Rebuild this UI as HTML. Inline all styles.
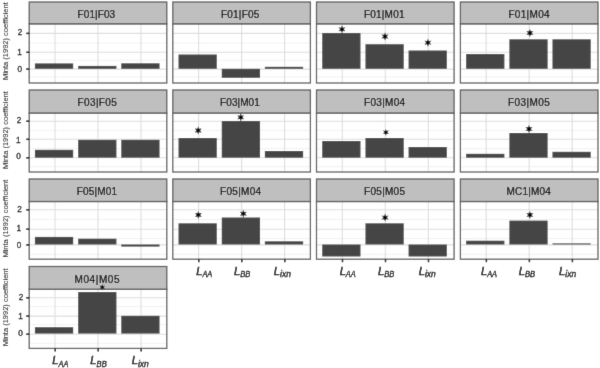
<!DOCTYPE html>
<html><head><meta charset="utf-8"><style>
html,body{margin:0;padding:0;background:#fff;}
svg{display:block;will-change:transform;}
text{font-family:"Liberation Sans", sans-serif;}
</style></head><body>
<svg width="600" height="368" viewBox="0 0 600 368">
<defs><filter id="b" x="0" y="0" width="1" height="1"><feConvolveMatrix order="3" kernelMatrix="0.0081 0.0738 0.0081 0.0738 0.6724 0.0738 0.0081 0.0738 0.0081" edgeMode="duplicate" preserveAlpha="true"/></filter></defs>
<rect width="600" height="368" fill="#fff"/>
<g filter="url(#b)">
<rect width="600" height="368" fill="#fff"/>
<rect x="29.2" y="23.8" width="137.6" height="59.2" fill="#fff"/>
<line x1="29.2" x2="166.8" y1="43.1" y2="43.1" stroke="#f0f0f0" stroke-width="0.9"/>
<line x1="29.2" x2="166.8" y1="60.2" y2="60.2" stroke="#f0f0f0" stroke-width="0.9"/>
<line x1="29.2" x2="166.8" y1="76.9" y2="76.9" stroke="#f0f0f0" stroke-width="0.9"/>
<line x1="29.2" x2="166.8" y1="33.4" y2="33.4" stroke="#dedede" stroke-width="1.1"/>
<line x1="29.2" x2="166.8" y1="52.3" y2="52.3" stroke="#dedede" stroke-width="1.1"/>
<line x1="29.2" x2="166.8" y1="69.1" y2="69.1" stroke="#dedede" stroke-width="1.1"/>
<line x1="55" x2="55" y1="23.8" y2="83" stroke="#dedede" stroke-width="1.1"/>
<line x1="98" x2="98" y1="23.8" y2="83" stroke="#dedede" stroke-width="1.1"/>
<line x1="141" x2="141" y1="23.8" y2="83" stroke="#dedede" stroke-width="1.1"/>
<rect x="34.9" y="63.4" width="38.3" height="5.4" fill="#454545"/>
<rect x="78.15" y="65.9" width="38.3" height="2.9" fill="#454545"/>
<rect x="121.25" y="63.3" width="38.3" height="5.5" fill="#454545"/>
<rect x="29.2" y="23.8" width="137.6" height="59.2" fill="none" stroke="#5c5c5c" stroke-width="1.3"/>
<rect x="29.2" y="2" width="137.6" height="21.8" fill="#bfbfbf" stroke="#5c5c5c" stroke-width="1.3"/>
<text x="77.58" y="18" font-size="10" fill="#000" textLength="37.56" lengthAdjust="spacing" stroke="#000" stroke-width="0.2">F01|F03</text>
<rect x="172.8" y="23.8" width="137.6" height="59.2" fill="#fff"/>
<line x1="172.8" x2="310.4" y1="43.1" y2="43.1" stroke="#f0f0f0" stroke-width="0.9"/>
<line x1="172.8" x2="310.4" y1="60.2" y2="60.2" stroke="#f0f0f0" stroke-width="0.9"/>
<line x1="172.8" x2="310.4" y1="76.9" y2="76.9" stroke="#f0f0f0" stroke-width="0.9"/>
<line x1="172.8" x2="310.4" y1="33.4" y2="33.4" stroke="#dedede" stroke-width="1.1"/>
<line x1="172.8" x2="310.4" y1="52.3" y2="52.3" stroke="#dedede" stroke-width="1.1"/>
<line x1="172.8" x2="310.4" y1="69.1" y2="69.1" stroke="#dedede" stroke-width="1.1"/>
<line x1="198.6" x2="198.6" y1="23.8" y2="83" stroke="#dedede" stroke-width="1.1"/>
<line x1="241.6" x2="241.6" y1="23.8" y2="83" stroke="#dedede" stroke-width="1.1"/>
<line x1="284.6" x2="284.6" y1="23.8" y2="83" stroke="#dedede" stroke-width="1.1"/>
<rect x="178.5" y="54.5" width="38.3" height="14.3" fill="#454545"/>
<rect x="221.75" y="68.8" width="38.3" height="9" fill="#454545"/>
<rect x="264.85" y="66.8" width="38.3" height="2" fill="#454545"/>
<rect x="172.8" y="23.8" width="137.6" height="59.2" fill="none" stroke="#5c5c5c" stroke-width="1.3"/>
<rect x="172.8" y="2" width="137.6" height="21.8" fill="#bfbfbf" stroke="#5c5c5c" stroke-width="1.3"/>
<text x="220.88" y="18" font-size="10" fill="#000" textLength="38.44" lengthAdjust="spacing" stroke="#000" stroke-width="0.2">F01|F05</text>
<rect x="316.5" y="23.8" width="137.6" height="59.2" fill="#fff"/>
<line x1="316.5" x2="454.1" y1="43.1" y2="43.1" stroke="#f0f0f0" stroke-width="0.9"/>
<line x1="316.5" x2="454.1" y1="60.2" y2="60.2" stroke="#f0f0f0" stroke-width="0.9"/>
<line x1="316.5" x2="454.1" y1="76.9" y2="76.9" stroke="#f0f0f0" stroke-width="0.9"/>
<line x1="316.5" x2="454.1" y1="33.4" y2="33.4" stroke="#dedede" stroke-width="1.1"/>
<line x1="316.5" x2="454.1" y1="52.3" y2="52.3" stroke="#dedede" stroke-width="1.1"/>
<line x1="316.5" x2="454.1" y1="69.1" y2="69.1" stroke="#dedede" stroke-width="1.1"/>
<line x1="342.3" x2="342.3" y1="23.8" y2="83" stroke="#dedede" stroke-width="1.1"/>
<line x1="385.3" x2="385.3" y1="23.8" y2="83" stroke="#dedede" stroke-width="1.1"/>
<line x1="428.3" x2="428.3" y1="23.8" y2="83" stroke="#dedede" stroke-width="1.1"/>
<rect x="322.2" y="33" width="38.3" height="35.8" fill="#454545"/>
<rect x="365.45" y="44.2" width="38.3" height="24.6" fill="#454545"/>
<rect x="408.55" y="50.5" width="38.3" height="18.3" fill="#454545"/>
<rect x="316.5" y="23.8" width="137.6" height="59.2" fill="none" stroke="#5c5c5c" stroke-width="1.3"/>
<rect x="316.5" y="2" width="137.6" height="21.8" fill="#bfbfbf" stroke="#5c5c5c" stroke-width="1.3"/>
<text x="363.98" y="18" font-size="10" fill="#000" textLength="40.51" lengthAdjust="spacing" stroke="#000" stroke-width="0.2">F01|M01</text>
<g transform="translate(341.95 29.3) scale(1.0)"><polygon points="0.00,-4.00 0.95,-1.65 3.46,-2.00 1.90,0.00 3.46,2.00 0.95,1.65 0.00,4.00 -0.95,1.65 -3.46,2.00 -1.90,0.00 -3.46,-2.00 -0.95,-1.65" fill="#2a2a2a"/><rect x="-1.4" y="-1.25" width="2.8" height="2.5" fill="#000"/></g>
<g transform="translate(385 36.5) scale(1.0)"><polygon points="0.00,-4.00 0.95,-1.65 3.46,-2.00 1.90,0.00 3.46,2.00 0.95,1.65 0.00,4.00 -0.95,1.65 -3.46,2.00 -1.90,0.00 -3.46,-2.00 -0.95,-1.65" fill="#2a2a2a"/><rect x="-1.4" y="-1.25" width="2.8" height="2.5" fill="#000"/></g>
<g transform="translate(427.9 42.7) scale(1.0)"><polygon points="0.00,-4.00 0.95,-1.65 3.46,-2.00 1.90,0.00 3.46,2.00 0.95,1.65 0.00,4.00 -0.95,1.65 -3.46,2.00 -1.90,0.00 -3.46,-2.00 -0.95,-1.65" fill="#2a2a2a"/><rect x="-1.4" y="-1.25" width="2.8" height="2.5" fill="#000"/></g>
<rect x="460.4" y="23.8" width="137.6" height="59.2" fill="#fff"/>
<line x1="460.4" x2="598" y1="43.1" y2="43.1" stroke="#f0f0f0" stroke-width="0.9"/>
<line x1="460.4" x2="598" y1="60.2" y2="60.2" stroke="#f0f0f0" stroke-width="0.9"/>
<line x1="460.4" x2="598" y1="76.9" y2="76.9" stroke="#f0f0f0" stroke-width="0.9"/>
<line x1="460.4" x2="598" y1="33.4" y2="33.4" stroke="#dedede" stroke-width="1.1"/>
<line x1="460.4" x2="598" y1="52.3" y2="52.3" stroke="#dedede" stroke-width="1.1"/>
<line x1="460.4" x2="598" y1="69.1" y2="69.1" stroke="#dedede" stroke-width="1.1"/>
<line x1="486.2" x2="486.2" y1="23.8" y2="83" stroke="#dedede" stroke-width="1.1"/>
<line x1="529.2" x2="529.2" y1="23.8" y2="83" stroke="#dedede" stroke-width="1.1"/>
<line x1="572.2" x2="572.2" y1="23.8" y2="83" stroke="#dedede" stroke-width="1.1"/>
<rect x="466.1" y="54" width="38.3" height="14.8" fill="#454545"/>
<rect x="509.35" y="39.3" width="38.3" height="29.5" fill="#454545"/>
<rect x="552.45" y="39.3" width="38.3" height="29.5" fill="#454545"/>
<rect x="460.4" y="23.8" width="137.6" height="59.2" fill="none" stroke="#5c5c5c" stroke-width="1.3"/>
<rect x="460.4" y="2" width="137.6" height="21.8" fill="#bfbfbf" stroke="#5c5c5c" stroke-width="1.3"/>
<text x="508.38" y="18" font-size="10" fill="#000" textLength="41.21" lengthAdjust="spacing" stroke="#000" stroke-width="0.2">F01|M04</text>
<g transform="translate(529.9 33) scale(1.0)"><polygon points="0.00,-4.00 0.95,-1.65 3.46,-2.00 1.90,0.00 3.46,2.00 0.95,1.65 0.00,4.00 -0.95,1.65 -3.46,2.00 -1.90,0.00 -3.46,-2.00 -0.95,-1.65" fill="#2a2a2a"/><rect x="-1.4" y="-1.25" width="2.8" height="2.5" fill="#000"/></g>
<rect x="29.2" y="113" width="137.6" height="59" fill="#fff"/>
<line x1="29.2" x2="166.8" y1="130.4" y2="130.4" stroke="#f0f0f0" stroke-width="0.9"/>
<line x1="29.2" x2="166.8" y1="148.6" y2="148.6" stroke="#f0f0f0" stroke-width="0.9"/>
<line x1="29.2" x2="166.8" y1="166.8" y2="166.8" stroke="#f0f0f0" stroke-width="0.9"/>
<line x1="29.2" x2="166.8" y1="121.2" y2="121.2" stroke="#dedede" stroke-width="1.1"/>
<line x1="29.2" x2="166.8" y1="139.3" y2="139.3" stroke="#dedede" stroke-width="1.1"/>
<line x1="29.2" x2="166.8" y1="157.8" y2="157.8" stroke="#dedede" stroke-width="1.1"/>
<line x1="55" x2="55" y1="113" y2="172" stroke="#dedede" stroke-width="1.1"/>
<line x1="98" x2="98" y1="113" y2="172" stroke="#dedede" stroke-width="1.1"/>
<line x1="141" x2="141" y1="113" y2="172" stroke="#dedede" stroke-width="1.1"/>
<rect x="34.9" y="149.8" width="38.3" height="7.9" fill="#454545"/>
<rect x="78.15" y="139.8" width="38.3" height="17.9" fill="#454545"/>
<rect x="121.25" y="139.8" width="38.3" height="17.9" fill="#454545"/>
<rect x="29.2" y="113" width="137.6" height="59" fill="none" stroke="#5c5c5c" stroke-width="1.3"/>
<rect x="29.2" y="90" width="137.6" height="23" fill="#bfbfbf" stroke="#5c5c5c" stroke-width="1.3"/>
<text x="77.58" y="106" font-size="10" fill="#000" textLength="39.24" lengthAdjust="spacing" stroke="#000" stroke-width="0.2">F03|F05</text>
<rect x="172.8" y="113" width="137.6" height="59" fill="#fff"/>
<line x1="172.8" x2="310.4" y1="130.4" y2="130.4" stroke="#f0f0f0" stroke-width="0.9"/>
<line x1="172.8" x2="310.4" y1="148.6" y2="148.6" stroke="#f0f0f0" stroke-width="0.9"/>
<line x1="172.8" x2="310.4" y1="166.8" y2="166.8" stroke="#f0f0f0" stroke-width="0.9"/>
<line x1="172.8" x2="310.4" y1="121.2" y2="121.2" stroke="#dedede" stroke-width="1.1"/>
<line x1="172.8" x2="310.4" y1="139.3" y2="139.3" stroke="#dedede" stroke-width="1.1"/>
<line x1="172.8" x2="310.4" y1="157.8" y2="157.8" stroke="#dedede" stroke-width="1.1"/>
<line x1="198.6" x2="198.6" y1="113" y2="172" stroke="#dedede" stroke-width="1.1"/>
<line x1="241.6" x2="241.6" y1="113" y2="172" stroke="#dedede" stroke-width="1.1"/>
<line x1="284.6" x2="284.6" y1="113" y2="172" stroke="#dedede" stroke-width="1.1"/>
<rect x="178.5" y="138" width="38.3" height="19.7" fill="#454545"/>
<rect x="221.75" y="121" width="38.3" height="36.7" fill="#454545"/>
<rect x="264.85" y="151" width="38.3" height="6.7" fill="#454545"/>
<rect x="172.8" y="113" width="137.6" height="59" fill="none" stroke="#5c5c5c" stroke-width="1.3"/>
<rect x="172.8" y="90" width="137.6" height="23" fill="#bfbfbf" stroke="#5c5c5c" stroke-width="1.3"/>
<text x="220.08" y="106" font-size="10" fill="#000" textLength="39.71" lengthAdjust="spacing" stroke="#000" stroke-width="0.2">F03|M01</text>
<g transform="translate(198.2 130.5) scale(1.0)"><polygon points="0.00,-4.00 0.95,-1.65 3.46,-2.00 1.90,0.00 3.46,2.00 0.95,1.65 0.00,4.00 -0.95,1.65 -3.46,2.00 -1.90,0.00 -3.46,-2.00 -0.95,-1.65" fill="#2a2a2a"/><rect x="-1.4" y="-1.25" width="2.8" height="2.5" fill="#000"/></g>
<g transform="translate(240.7 117.3) scale(1.0)"><polygon points="0.00,-4.00 0.95,-1.65 3.46,-2.00 1.90,0.00 3.46,2.00 0.95,1.65 0.00,4.00 -0.95,1.65 -3.46,2.00 -1.90,0.00 -3.46,-2.00 -0.95,-1.65" fill="#2a2a2a"/><rect x="-1.4" y="-1.25" width="2.8" height="2.5" fill="#000"/></g>
<rect x="316.5" y="113" width="137.6" height="59" fill="#fff"/>
<line x1="316.5" x2="454.1" y1="130.4" y2="130.4" stroke="#f0f0f0" stroke-width="0.9"/>
<line x1="316.5" x2="454.1" y1="148.6" y2="148.6" stroke="#f0f0f0" stroke-width="0.9"/>
<line x1="316.5" x2="454.1" y1="166.8" y2="166.8" stroke="#f0f0f0" stroke-width="0.9"/>
<line x1="316.5" x2="454.1" y1="121.2" y2="121.2" stroke="#dedede" stroke-width="1.1"/>
<line x1="316.5" x2="454.1" y1="139.3" y2="139.3" stroke="#dedede" stroke-width="1.1"/>
<line x1="316.5" x2="454.1" y1="157.8" y2="157.8" stroke="#dedede" stroke-width="1.1"/>
<line x1="342.3" x2="342.3" y1="113" y2="172" stroke="#dedede" stroke-width="1.1"/>
<line x1="385.3" x2="385.3" y1="113" y2="172" stroke="#dedede" stroke-width="1.1"/>
<line x1="428.3" x2="428.3" y1="113" y2="172" stroke="#dedede" stroke-width="1.1"/>
<rect x="322.2" y="141" width="38.3" height="16.7" fill="#454545"/>
<rect x="365.45" y="138" width="38.3" height="19.7" fill="#454545"/>
<rect x="408.55" y="147" width="38.3" height="10.7" fill="#454545"/>
<rect x="316.5" y="113" width="137.6" height="59" fill="none" stroke="#5c5c5c" stroke-width="1.3"/>
<rect x="316.5" y="90" width="137.6" height="23" fill="#bfbfbf" stroke="#5c5c5c" stroke-width="1.3"/>
<text x="364.08" y="106" font-size="10" fill="#000" textLength="41.01" lengthAdjust="spacing" stroke="#000" stroke-width="0.2">F03|M04</text>
<g transform="translate(385.9 132.3) scale(0.85)"><polygon points="0.00,-4.00 0.95,-1.65 3.46,-2.00 1.90,0.00 3.46,2.00 0.95,1.65 0.00,4.00 -0.95,1.65 -3.46,2.00 -1.90,0.00 -3.46,-2.00 -0.95,-1.65" fill="#2a2a2a"/><rect x="-1.4" y="-1.25" width="2.8" height="2.5" fill="#000"/></g>
<rect x="460.4" y="113" width="137.6" height="59" fill="#fff"/>
<line x1="460.4" x2="598" y1="130.4" y2="130.4" stroke="#f0f0f0" stroke-width="0.9"/>
<line x1="460.4" x2="598" y1="148.6" y2="148.6" stroke="#f0f0f0" stroke-width="0.9"/>
<line x1="460.4" x2="598" y1="166.8" y2="166.8" stroke="#f0f0f0" stroke-width="0.9"/>
<line x1="460.4" x2="598" y1="121.2" y2="121.2" stroke="#dedede" stroke-width="1.1"/>
<line x1="460.4" x2="598" y1="139.3" y2="139.3" stroke="#dedede" stroke-width="1.1"/>
<line x1="460.4" x2="598" y1="157.8" y2="157.8" stroke="#dedede" stroke-width="1.1"/>
<line x1="486.2" x2="486.2" y1="113" y2="172" stroke="#dedede" stroke-width="1.1"/>
<line x1="529.2" x2="529.2" y1="113" y2="172" stroke="#dedede" stroke-width="1.1"/>
<line x1="572.2" x2="572.2" y1="113" y2="172" stroke="#dedede" stroke-width="1.1"/>
<rect x="466.1" y="153.8" width="38.3" height="3.9" fill="#454545"/>
<rect x="509.35" y="133" width="38.3" height="24.7" fill="#454545"/>
<rect x="552.45" y="151.8" width="38.3" height="5.9" fill="#454545"/>
<rect x="460.4" y="113" width="137.6" height="59" fill="none" stroke="#5c5c5c" stroke-width="1.3"/>
<rect x="460.4" y="90" width="137.6" height="23" fill="#bfbfbf" stroke="#5c5c5c" stroke-width="1.3"/>
<text x="508.08" y="106" font-size="10" fill="#000" textLength="41.64" lengthAdjust="spacing" stroke="#000" stroke-width="0.2">F03|M05</text>
<g transform="translate(529 129) scale(1.0)"><polygon points="0.00,-4.00 0.95,-1.65 3.46,-2.00 1.90,0.00 3.46,2.00 0.95,1.65 0.00,4.00 -0.95,1.65 -3.46,2.00 -1.90,0.00 -3.46,-2.00 -0.95,-1.65" fill="#2a2a2a"/><rect x="-1.4" y="-1.25" width="2.8" height="2.5" fill="#000"/></g>
<rect x="29.2" y="201.5" width="137.6" height="57.7" fill="#fff"/>
<line x1="29.2" x2="166.8" y1="219.5" y2="219.5" stroke="#f0f0f0" stroke-width="0.9"/>
<line x1="29.2" x2="166.8" y1="238.5" y2="238.5" stroke="#f0f0f0" stroke-width="0.9"/>
<line x1="29.2" x2="166.8" y1="254.3" y2="254.3" stroke="#f0f0f0" stroke-width="0.9"/>
<line x1="29.2" x2="166.8" y1="209.8" y2="209.8" stroke="#dedede" stroke-width="1.1"/>
<line x1="29.2" x2="166.8" y1="229.2" y2="229.2" stroke="#dedede" stroke-width="1.1"/>
<line x1="29.2" x2="166.8" y1="244.9" y2="244.9" stroke="#dedede" stroke-width="1.1"/>
<line x1="55" x2="55" y1="201.5" y2="259.2" stroke="#dedede" stroke-width="1.1"/>
<line x1="98" x2="98" y1="201.5" y2="259.2" stroke="#dedede" stroke-width="1.1"/>
<line x1="141" x2="141" y1="201.5" y2="259.2" stroke="#dedede" stroke-width="1.1"/>
<rect x="34.9" y="236.9" width="38.3" height="7.6" fill="#454545"/>
<rect x="78.15" y="238.7" width="38.3" height="5.8" fill="#454545"/>
<rect x="121.25" y="244.5" width="38.3" height="2.1" fill="#454545"/>
<rect x="29.2" y="201.5" width="137.6" height="57.7" fill="none" stroke="#5c5c5c" stroke-width="1.3"/>
<rect x="29.2" y="179" width="137.6" height="22.5" fill="#bfbfbf" stroke="#5c5c5c" stroke-width="1.3"/>
<text x="76.78" y="195" font-size="10" fill="#000" textLength="40.31" lengthAdjust="spacing" stroke="#000" stroke-width="0.2">F05|M01</text>
<rect x="172.8" y="201.5" width="137.6" height="57.7" fill="#fff"/>
<line x1="172.8" x2="310.4" y1="219.5" y2="219.5" stroke="#f0f0f0" stroke-width="0.9"/>
<line x1="172.8" x2="310.4" y1="238.5" y2="238.5" stroke="#f0f0f0" stroke-width="0.9"/>
<line x1="172.8" x2="310.4" y1="254.3" y2="254.3" stroke="#f0f0f0" stroke-width="0.9"/>
<line x1="172.8" x2="310.4" y1="209.8" y2="209.8" stroke="#dedede" stroke-width="1.1"/>
<line x1="172.8" x2="310.4" y1="229.2" y2="229.2" stroke="#dedede" stroke-width="1.1"/>
<line x1="172.8" x2="310.4" y1="244.9" y2="244.9" stroke="#dedede" stroke-width="1.1"/>
<line x1="198.6" x2="198.6" y1="201.5" y2="259.2" stroke="#dedede" stroke-width="1.1"/>
<line x1="241.6" x2="241.6" y1="201.5" y2="259.2" stroke="#dedede" stroke-width="1.1"/>
<line x1="284.6" x2="284.6" y1="201.5" y2="259.2" stroke="#dedede" stroke-width="1.1"/>
<rect x="178.5" y="223.3" width="38.3" height="21.2" fill="#454545"/>
<rect x="221.75" y="217.5" width="38.3" height="27" fill="#454545"/>
<rect x="264.85" y="241.3" width="38.3" height="3.2" fill="#454545"/>
<rect x="172.8" y="201.5" width="137.6" height="57.7" fill="none" stroke="#5c5c5c" stroke-width="1.3"/>
<rect x="172.8" y="179" width="137.6" height="22.5" fill="#bfbfbf" stroke="#5c5c5c" stroke-width="1.3"/>
<text x="220.08" y="195" font-size="10" fill="#000" textLength="41.01" lengthAdjust="spacing" stroke="#000" stroke-width="0.2">F05|M04</text>
<g transform="translate(198.35 214.9) scale(1.0)"><polygon points="0.00,-4.00 0.95,-1.65 3.46,-2.00 1.90,0.00 3.46,2.00 0.95,1.65 0.00,4.00 -0.95,1.65 -3.46,2.00 -1.90,0.00 -3.46,-2.00 -0.95,-1.65" fill="#2a2a2a"/><rect x="-1.4" y="-1.25" width="2.8" height="2.5" fill="#000"/></g>
<g transform="translate(243.35 213.7) scale(1.0)"><polygon points="0.00,-4.00 0.95,-1.65 3.46,-2.00 1.90,0.00 3.46,2.00 0.95,1.65 0.00,4.00 -0.95,1.65 -3.46,2.00 -1.90,0.00 -3.46,-2.00 -0.95,-1.65" fill="#2a2a2a"/><rect x="-1.4" y="-1.25" width="2.8" height="2.5" fill="#000"/></g>
<line x1="198.8" x2="198.8" y1="259.2" y2="262.2" stroke="#000" stroke-width="1.5"/>
<line x1="241.8" x2="241.8" y1="259.2" y2="262.2" stroke="#000" stroke-width="1.5"/>
<line x1="284.8" x2="284.8" y1="259.2" y2="262.2" stroke="#000" stroke-width="1.5"/>
<text x="196.26" y="275.2" font-size="11.2" font-style="italic" fill="#000" stroke="#000" stroke-width="0.5">L</text>
<text x="202.43" y="277.4" font-size="8.6" font-style="italic" fill="#000" textLength="9.87" lengthAdjust="spacingAndGlyphs" stroke="#000" stroke-width="0.35">AA</text>
<text x="234.06" y="275.2" font-size="11.2" font-style="italic" fill="#000" stroke="#000" stroke-width="0.5">L</text>
<text x="240.31" y="277.4" font-size="8.6" font-style="italic" fill="#000" textLength="10.14" lengthAdjust="spacingAndGlyphs" stroke="#000" stroke-width="0.35">BB</text>
<text x="273.81" y="275.2" font-size="11.2" font-style="italic" fill="#000" stroke="#000" stroke-width="0.5">L</text>
<text x="280.04" y="277.4" font-size="8.6" font-style="italic" fill="#000" textLength="10.85" lengthAdjust="spacingAndGlyphs" stroke="#000" stroke-width="0.35">ixn</text>
<rect x="316.5" y="201.5" width="137.6" height="57.7" fill="#fff"/>
<line x1="316.5" x2="454.1" y1="219.5" y2="219.5" stroke="#f0f0f0" stroke-width="0.9"/>
<line x1="316.5" x2="454.1" y1="238.5" y2="238.5" stroke="#f0f0f0" stroke-width="0.9"/>
<line x1="316.5" x2="454.1" y1="254.3" y2="254.3" stroke="#f0f0f0" stroke-width="0.9"/>
<line x1="316.5" x2="454.1" y1="209.8" y2="209.8" stroke="#dedede" stroke-width="1.1"/>
<line x1="316.5" x2="454.1" y1="229.2" y2="229.2" stroke="#dedede" stroke-width="1.1"/>
<line x1="316.5" x2="454.1" y1="244.9" y2="244.9" stroke="#dedede" stroke-width="1.1"/>
<line x1="342.3" x2="342.3" y1="201.5" y2="259.2" stroke="#dedede" stroke-width="1.1"/>
<line x1="385.3" x2="385.3" y1="201.5" y2="259.2" stroke="#dedede" stroke-width="1.1"/>
<line x1="428.3" x2="428.3" y1="201.5" y2="259.2" stroke="#dedede" stroke-width="1.1"/>
<rect x="322.2" y="244.5" width="38.3" height="12" fill="#454545"/>
<rect x="365.45" y="223.3" width="38.3" height="21.2" fill="#454545"/>
<rect x="408.55" y="244.5" width="38.3" height="12" fill="#454545"/>
<rect x="316.5" y="201.5" width="137.6" height="57.7" fill="none" stroke="#5c5c5c" stroke-width="1.3"/>
<rect x="316.5" y="179" width="137.6" height="22.5" fill="#bfbfbf" stroke="#5c5c5c" stroke-width="1.3"/>
<text x="364.08" y="195" font-size="10" fill="#000" textLength="40.94" lengthAdjust="spacing" stroke="#000" stroke-width="0.2">F05|M05</text>
<g transform="translate(385.1 217.6) scale(1.0)"><polygon points="0.00,-4.00 0.95,-1.65 3.46,-2.00 1.90,0.00 3.46,2.00 0.95,1.65 0.00,4.00 -0.95,1.65 -3.46,2.00 -1.90,0.00 -3.46,-2.00 -0.95,-1.65" fill="#2a2a2a"/><rect x="-1.4" y="-1.25" width="2.8" height="2.5" fill="#000"/></g>
<line x1="342.5" x2="342.5" y1="259.2" y2="262.2" stroke="#000" stroke-width="1.5"/>
<line x1="385.5" x2="385.5" y1="259.2" y2="262.2" stroke="#000" stroke-width="1.5"/>
<line x1="428.5" x2="428.5" y1="259.2" y2="262.2" stroke="#000" stroke-width="1.5"/>
<text x="339.66" y="275.2" font-size="11.2" font-style="italic" fill="#000" stroke="#000" stroke-width="0.5">L</text>
<text x="345.83" y="277.4" font-size="8.6" font-style="italic" fill="#000" textLength="9.87" lengthAdjust="spacingAndGlyphs" stroke="#000" stroke-width="0.35">AA</text>
<text x="378.06" y="275.2" font-size="11.2" font-style="italic" fill="#000" stroke="#000" stroke-width="0.5">L</text>
<text x="384.31" y="277.4" font-size="8.6" font-style="italic" fill="#000" textLength="10.14" lengthAdjust="spacingAndGlyphs" stroke="#000" stroke-width="0.35">BB</text>
<text x="418.66" y="275.2" font-size="11.2" font-style="italic" fill="#000" stroke="#000" stroke-width="0.5">L</text>
<text x="424.89" y="277.4" font-size="8.6" font-style="italic" fill="#000" textLength="10.85" lengthAdjust="spacingAndGlyphs" stroke="#000" stroke-width="0.35">ixn</text>
<rect x="460.4" y="201.5" width="137.6" height="57.7" fill="#fff"/>
<line x1="460.4" x2="598" y1="219.5" y2="219.5" stroke="#f0f0f0" stroke-width="0.9"/>
<line x1="460.4" x2="598" y1="238.5" y2="238.5" stroke="#f0f0f0" stroke-width="0.9"/>
<line x1="460.4" x2="598" y1="254.3" y2="254.3" stroke="#f0f0f0" stroke-width="0.9"/>
<line x1="460.4" x2="598" y1="209.8" y2="209.8" stroke="#dedede" stroke-width="1.1"/>
<line x1="460.4" x2="598" y1="229.2" y2="229.2" stroke="#dedede" stroke-width="1.1"/>
<line x1="460.4" x2="598" y1="244.9" y2="244.9" stroke="#dedede" stroke-width="1.1"/>
<line x1="486.2" x2="486.2" y1="201.5" y2="259.2" stroke="#dedede" stroke-width="1.1"/>
<line x1="529.2" x2="529.2" y1="201.5" y2="259.2" stroke="#dedede" stroke-width="1.1"/>
<line x1="572.2" x2="572.2" y1="201.5" y2="259.2" stroke="#dedede" stroke-width="1.1"/>
<rect x="466.1" y="240.7" width="38.3" height="3.8" fill="#454545"/>
<rect x="509.35" y="220.6" width="38.3" height="23.9" fill="#454545"/>
<rect x="552.45" y="243.4" width="38.3" height="1.1" fill="#454545"/>
<rect x="460.4" y="201.5" width="137.6" height="57.7" fill="none" stroke="#5c5c5c" stroke-width="1.3"/>
<rect x="460.4" y="179" width="137.6" height="22.5" fill="#bfbfbf" stroke="#5c5c5c" stroke-width="1.3"/>
<text x="506.38" y="195" font-size="10" fill="#000" textLength="44.51" lengthAdjust="spacing" stroke="#000" stroke-width="0.2">MC1|M04</text>
<g transform="translate(529.9 214.9) scale(1.0)"><polygon points="0.00,-4.00 0.95,-1.65 3.46,-2.00 1.90,0.00 3.46,2.00 0.95,1.65 0.00,4.00 -0.95,1.65 -3.46,2.00 -1.90,0.00 -3.46,-2.00 -0.95,-1.65" fill="#2a2a2a"/><rect x="-1.4" y="-1.25" width="2.8" height="2.5" fill="#000"/></g>
<line x1="486.4" x2="486.4" y1="259.2" y2="262.2" stroke="#000" stroke-width="1.5"/>
<line x1="529.4" x2="529.4" y1="259.2" y2="262.2" stroke="#000" stroke-width="1.5"/>
<line x1="572.4" x2="572.4" y1="259.2" y2="262.2" stroke="#000" stroke-width="1.5"/>
<text x="480.96" y="275.2" font-size="11.2" font-style="italic" fill="#000" stroke="#000" stroke-width="0.5">L</text>
<text x="487.13" y="277.4" font-size="8.6" font-style="italic" fill="#000" textLength="9.87" lengthAdjust="spacingAndGlyphs" stroke="#000" stroke-width="0.35">AA</text>
<text x="518.66" y="275.2" font-size="11.2" font-style="italic" fill="#000" stroke="#000" stroke-width="0.5">L</text>
<text x="524.91" y="277.4" font-size="8.6" font-style="italic" fill="#000" textLength="10.14" lengthAdjust="spacingAndGlyphs" stroke="#000" stroke-width="0.35">BB</text>
<text x="559.06" y="275.2" font-size="11.2" font-style="italic" fill="#000" stroke="#000" stroke-width="0.5">L</text>
<text x="565.29" y="277.4" font-size="8.6" font-style="italic" fill="#000" textLength="10.85" lengthAdjust="spacingAndGlyphs" stroke="#000" stroke-width="0.35">ixn</text>
<rect x="29.2" y="289.2" width="137.6" height="59.2" fill="#fff"/>
<line x1="29.2" x2="166.8" y1="306.6" y2="306.6" stroke="#f0f0f0" stroke-width="0.9"/>
<line x1="29.2" x2="166.8" y1="324.6" y2="324.6" stroke="#f0f0f0" stroke-width="0.9"/>
<line x1="29.2" x2="166.8" y1="343.4" y2="343.4" stroke="#f0f0f0" stroke-width="0.9"/>
<line x1="29.2" x2="166.8" y1="297.8" y2="297.8" stroke="#dedede" stroke-width="1.1"/>
<line x1="29.2" x2="166.8" y1="316.1" y2="316.1" stroke="#dedede" stroke-width="1.1"/>
<line x1="29.2" x2="166.8" y1="334.2" y2="334.2" stroke="#dedede" stroke-width="1.1"/>
<line x1="55" x2="55" y1="289.2" y2="348.4" stroke="#dedede" stroke-width="1.1"/>
<line x1="98" x2="98" y1="289.2" y2="348.4" stroke="#dedede" stroke-width="1.1"/>
<line x1="141" x2="141" y1="289.2" y2="348.4" stroke="#dedede" stroke-width="1.1"/>
<rect x="34.9" y="327.2" width="38.3" height="6.4" fill="#454545"/>
<rect x="78.15" y="292" width="38.3" height="41.6" fill="#454545"/>
<rect x="121.25" y="315.8" width="38.3" height="17.8" fill="#454545"/>
<rect x="29.2" y="289.2" width="137.6" height="59.2" fill="none" stroke="#5c5c5c" stroke-width="1.3"/>
<rect x="29.2" y="266.5" width="137.6" height="22.7" fill="#bfbfbf" stroke="#5c5c5c" stroke-width="1.3"/>
<text x="74.58" y="282.5" font-size="10" fill="#000" textLength="44.94" lengthAdjust="spacing" stroke="#000" stroke-width="0.2">M04|M05</text>
<g transform="translate(102.3 287.2) scale(0.8)"><polygon points="0.00,-4.00 0.95,-1.65 3.46,-2.00 1.90,0.00 3.46,2.00 0.95,1.65 0.00,4.00 -0.95,1.65 -3.46,2.00 -1.90,0.00 -3.46,-2.00 -0.95,-1.65" fill="#2a2a2a"/><rect x="-1.4" y="-1.25" width="2.8" height="2.5" fill="#000"/></g>
<line x1="55.2" x2="55.2" y1="348.4" y2="351.4" stroke="#000" stroke-width="1.5"/>
<line x1="98.2" x2="98.2" y1="348.4" y2="351.4" stroke="#000" stroke-width="1.5"/>
<line x1="141.2" x2="141.2" y1="348.4" y2="351.4" stroke="#000" stroke-width="1.5"/>
<text x="52.3" y="364.4" font-size="11.2" font-style="italic" fill="#000" stroke="#000" stroke-width="0.5">L</text>
<text x="58.47" y="366.6" font-size="8.6" font-style="italic" fill="#000" textLength="9.87" lengthAdjust="spacingAndGlyphs" stroke="#000" stroke-width="0.35">AA</text>
<text x="90.36" y="364.4" font-size="11.2" font-style="italic" fill="#000" stroke="#000" stroke-width="0.5">L</text>
<text x="96.61" y="366.6" font-size="8.6" font-style="italic" fill="#000" textLength="10.14" lengthAdjust="spacingAndGlyphs" stroke="#000" stroke-width="0.35">BB</text>
<text x="131.66" y="364.4" font-size="11.2" font-style="italic" fill="#000" stroke="#000" stroke-width="0.5">L</text>
<text x="137.89" y="366.6" font-size="8.6" font-style="italic" fill="#000" textLength="10.85" lengthAdjust="spacingAndGlyphs" stroke="#000" stroke-width="0.35">ixn</text>
<line x1="26.2" x2="29.2" y1="33.4" y2="33.4" stroke="#000" stroke-width="1.5"/>
<text x="17.82" y="34.91" font-size="8.2" fill="#000" stroke="#000" stroke-width="0.28">2</text>
<line x1="26.2" x2="29.2" y1="52.3" y2="52.3" stroke="#000" stroke-width="1.5"/>
<text x="17.16" y="54.72" font-size="8.2" fill="#000" stroke="#000" stroke-width="0.28">1</text>
<line x1="26.2" x2="29.2" y1="69.1" y2="69.1" stroke="#000" stroke-width="1.5"/>
<text x="17.47" y="71.57" font-size="8.2" fill="#000" stroke="#000" stroke-width="0.28">0</text>
<g transform="translate(8.2 40.9) rotate(-90)"><text x="-39.21" y="0" font-size="7.8" fill="#222" textLength="77.87" lengthAdjust="spacingAndGlyphs" stroke="#222" stroke-width="0.1">Minta (1992) coefficient</text></g>
<line x1="26.2" x2="29.2" y1="121.2" y2="121.2" stroke="#000" stroke-width="1.5"/>
<text x="16.82" y="122.86" font-size="8.2" fill="#000" stroke="#000" stroke-width="0.28">2</text>
<line x1="26.2" x2="29.2" y1="139.3" y2="139.3" stroke="#000" stroke-width="1.5"/>
<text x="16.11" y="142.72" font-size="8.2" fill="#000" stroke="#000" stroke-width="0.28">1</text>
<line x1="26.2" x2="29.2" y1="157.8" y2="157.8" stroke="#000" stroke-width="1.5"/>
<text x="16.22" y="159.42" font-size="8.2" fill="#000" stroke="#000" stroke-width="0.28">0</text>
<g transform="translate(8.2 129.8) rotate(-90)"><text x="-39.21" y="0" font-size="7.8" fill="#222" textLength="77.87" lengthAdjust="spacingAndGlyphs" stroke="#222" stroke-width="0.1">Minta (1992) coefficient</text></g>
<line x1="26.2" x2="29.2" y1="209.8" y2="209.8" stroke="#000" stroke-width="1.5"/>
<text x="17.32" y="211.76" font-size="8.2" fill="#000" stroke="#000" stroke-width="0.28">2</text>
<line x1="26.2" x2="29.2" y1="229.2" y2="229.2" stroke="#000" stroke-width="1.5"/>
<text x="16.41" y="231.02" font-size="8.2" fill="#000" stroke="#000" stroke-width="0.28">1</text>
<line x1="26.2" x2="29.2" y1="244.9" y2="244.9" stroke="#000" stroke-width="1.5"/>
<text x="16.72" y="247.77" font-size="8.2" fill="#000" stroke="#000" stroke-width="0.28">0</text>
<g transform="translate(8.2 218.35) rotate(-90)"><text x="-39.21" y="0" font-size="7.8" fill="#222" textLength="77.87" lengthAdjust="spacingAndGlyphs" stroke="#222" stroke-width="0.1">Minta (1992) coefficient</text></g>
<line x1="26.2" x2="29.2" y1="297.8" y2="297.8" stroke="#000" stroke-width="1.5"/>
<text x="18.82" y="299.76" font-size="8.2" fill="#000" stroke="#000" stroke-width="0.28">2</text>
<line x1="26.2" x2="29.2" y1="316.1" y2="316.1" stroke="#000" stroke-width="1.5"/>
<text x="18.21" y="319.22" font-size="8.2" fill="#000" stroke="#000" stroke-width="0.28">1</text>
<line x1="26.2" x2="29.2" y1="334.2" y2="334.2" stroke="#000" stroke-width="1.5"/>
<text x="18.22" y="336.27" font-size="8.2" fill="#000" stroke="#000" stroke-width="0.28">0</text>
<g transform="translate(8.2 307.05) rotate(-90)"><text x="-39.21" y="0" font-size="7.8" fill="#222" textLength="77.87" lengthAdjust="spacingAndGlyphs" stroke="#222" stroke-width="0.1">Minta (1992) coefficient</text></g>
</g>
</svg>
</body></html>
